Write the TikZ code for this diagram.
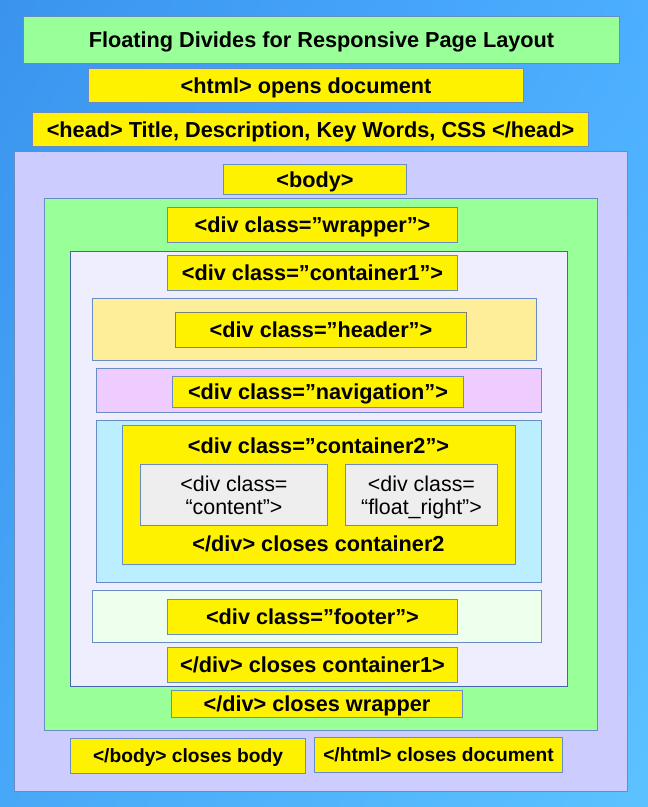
\documentclass[tikz,border=0pt]{standalone}
\usepackage{fontspec}
\setmainfont{Liberation Sans}
\usetikzlibrary{shadings}
\definecolor{bgA}{HTML}{3A94EE}
\definecolor{bgB}{HTML}{4CAEFF}
\definecolor{bgC}{HTML}{48A8F8}
\definecolor{bgD}{HTML}{5CC2FF}
\definecolor{edge}{HTML}{6A8CC4}
\definecolor{edgedark}{HTML}{4466AA}
\definecolor{ttlgreen}{HTML}{99FF99}
\definecolor{tagyellow}{HTML}{FFF200}
\definecolor{lav}{HTML}{CCCCFF}
\definecolor{wrapgreen}{HTML}{99FF99}
\definecolor{c1fill}{HTML}{EEEEFF}
\definecolor{hdrfill}{HTML}{FFEE99}
\definecolor{navfill}{HTML}{EECCFF}
\definecolor{c2fill}{HTML}{BBEEFF}
\definecolor{grayfill}{HTML}{EEEEEE}
\definecolor{ftrfill}{HTML}{EEFFEE}
\tikzset{
  panel/.style={draw=edge, line width=1pt, inner sep=0pt, anchor=north west},
  tagbox/.style={panel, fill=tagyellow, text height=18.5pt, text depth=3.5pt,
    font=\fontsize{21.7}{26}\selectfont\bfseries},
  smalltag/.style={panel, fill=tagyellow, text height=16.4pt, text depth=3.1pt,
    font=\fontsize{19.2}{23}\selectfont\bfseries},
  plain/.style={inner sep=0pt, anchor=base, font=\fontsize{21.7}{26}\selectfont\bfseries},
  graybox/.style={panel, fill=grayfill, align=center, text depth=0pt,
    font=\fontsize{21.4}{22.5}\selectfont},
}
% box from (x1,y1) to (x2,y2) in pixel units
\newcommand{\pbox}[7]{%
  \pgfmathsetmacro{\bw}{#4-#2}\pgfmathsetmacro{\bh}{#5-#3}%
  \node[#6, minimum width=\bw pt, minimum height=\bh pt] (#1) at (#2,#3) {#7};}
\begin{document}
\begin{tikzpicture}[x=1pt,y=-1pt]
\useasboundingbox (0,0) rectangle (648,807);
\shade[upper left=bgA, upper right=bgB, lower left=bgC, lower right=bgD] (0,0) rectangle (648,807);
\pbox{title}{23}{16}{619}{63}{tagbox, fill=ttlgreen}{Floating Divides for Responsive Page Layout}
\pbox{html}{88}{68}{523}{102}{tagbox}{<html> opens document}
\pbox{head}{32}{112}{588}{146}{tagbox}{<head> Title, Description, Key Words, CSS </head>}
\pbox{bodyouter}{14}{151}{627}{791}{panel, fill=lav}{}
\pbox{bodyopen}{223}{164}{406}{194}{tagbox}{<body>}
\pbox{wrapouter}{44}{198}{597}{730}{panel, fill=wrapgreen}{}
\pbox{wrapopen}{167}{207}{457}{242}{tagbox}{<div class=”wrapper”>}
\pbox{cont1}{70}{251}{567}{686}{panel, draw=edgedark, fill=c1fill}{}
\pbox{cont1open}{167}{255}{457}{290}{tagbox}{<div class=”container1”>}
\pbox{header}{92}{298}{536}{360}{panel, fill=hdrfill}{}
\pbox{headeropen}{175}{312}{466}{347}{tagbox, draw=gray}{<div class=”header”>}
\pbox{nav}{96}{368}{541}{412}{panel, fill=navfill}{}
\pbox{navopen}{172}{376}{463}{407}{tagbox}{<div class=”navigation”>}
\pbox{cont2outer}{96}{420}{541}{582}{panel, fill=c2fill}{}
\pbox{cont2}{122}{425}{515}{564}{panel, fill=tagyellow}{}
\node[plain] (cont2open) at (318.5,453) {<div class=”container2”>};
\pbox{content}{140}{464}{327}{525}{graybox}{<div class=\\“content”>}
\pbox{floatright}{345}{464}{497}{525}{graybox}{<div class=\\“float\_right”>}
\node[plain] (cont2close) at (318.5,551) {</div> closes container2};
\pbox{footer}{92}{590}{541}{642}{panel, fill=ftrfill}{}
\pbox{footeropen}{167}{599}{457}{634}{tagbox}{<div class=”footer”>}
\pbox{cont1close}{167}{647}{457}{682}{tagbox}{</div> closes container1>}
\pbox{wrapclose}{171}{690}{462}{717}{tagbox}{</div> closes wrapper}
\pbox{bodyclose}{70}{738}{305}{773}{smalltag}{</body> closes body}
\pbox{htmlclose}{314}{737}{562}{772}{smalltag}{</html> closes document}
\end{tikzpicture}
\end{document}
